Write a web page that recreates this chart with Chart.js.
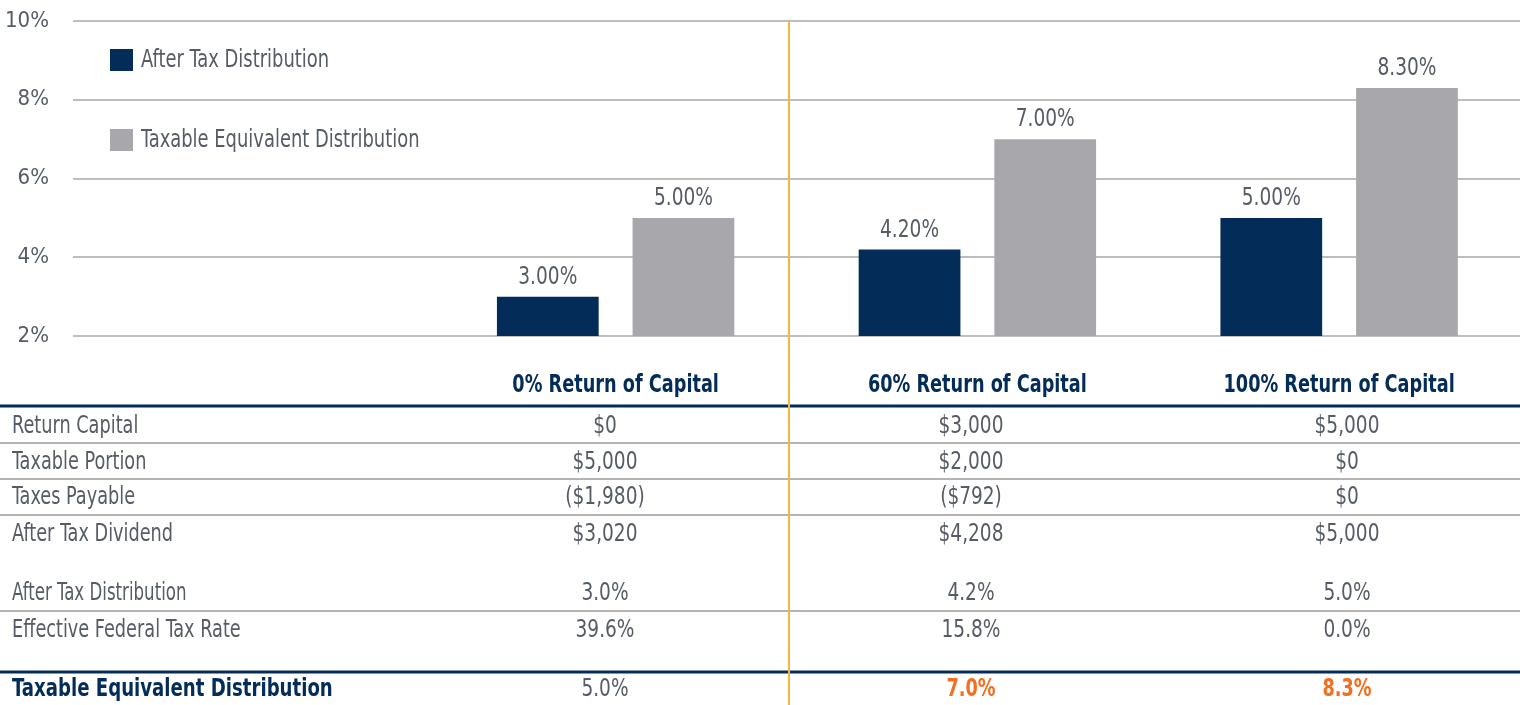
<!DOCTYPE html>
<html>
<head>
<meta charset="utf-8">
<script src="https://cdn.jsdelivr.net/npm/chart.js@4.4.0/dist/chart.umd.min.js"></script>
<style>
  html, body { margin: 0; padding: 0; background: #fff; }
  #wrap { width: 1520px; height: 705px; }
</style>
</head>
<body>
<div id="wrap"><canvas id="myChart" width="1520" height="705"></canvas></div>
<script>
// chart data
const categories = ['', '0% Return of Capital', '60% Return of Capital', '100% Return of Capital'];
const afterTaxDist = [null, 3.00, 4.20, 5.00];
const taxableEqDist = [null, 5.00, 7.00, 8.30];
const yMin = 2, yMax = 10, yStep = 2;

// table under the chart (one value per scenario)
const rowLabels = ['Return Capital', 'Taxable Portion', 'Taxes Payable', 'After Tax Dividend',
                   'After Tax Distribution', 'Effective Federal Tax Rate', 'Taxable Equivalent Distribution'];
const col0 = ['$0', '$5,000', '($1,980)', '$3,020', '3.0%', '39.6%', '5.0%'];
const col60 = ['$3,000', '$2,000', '($792)', '$4,208', '4.2%', '15.8%', '7.0%'];
const col100 = ['$5,000', '$0', '$0', '$5,000', '5.0%', '0.0%', '8.3%'];

const FONT = "'DejaVu Sans Condensed', 'Liberation Sans Narrow', sans-serif";
const NAVY = '#032c58';
const GREY_BAR = '#a8a8ac';
const TEXT = '#565c65';
const ORANGE = '#f26f21';
const SQUEEZE = 0.82;  // horizontal squeeze so the text looks like the condensed original

function narrowText(ctx, txt, x, y, sx) {
  ctx.save();
  ctx.translate(x, y);
  ctx.scale(sx, 1);
  ctx.fillText(txt, 0, 0);
  ctx.restore();
}

// bar value labels, legend, category names
const labelsPlugin = {
  id: 'labels',
  afterDatasetsDraw(chart) {
    const ctx = chart.ctx;
    ctx.save();
    ctx.font = '24px ' + FONT;
    ctx.fillStyle = TEXT;
    ctx.textAlign = 'center';
    ctx.textBaseline = 'bottom';
    chart.data.datasets.forEach((ds, i) => {
      chart.getDatasetMeta(i).data.forEach((bar, j) => {
        if (ds.data[j] == null) return;
        narrowText(ctx, ds.data[j].toFixed(2) + '%', bar.x, bar.y - 7, 0.86);
      });
    });
    // legend
    ctx.textAlign = 'left';
    ctx.textBaseline = 'middle';
    const ys = [60, 140];
    chart.data.datasets.forEach((ds, i) => {
      ctx.fillStyle = ds.backgroundColor;
      ctx.fillRect(110, ys[i] - 11, 23, 22);
      ctx.fillStyle = TEXT;
      narrowText(ctx, ds.label, 141, ys[i] + 1, 0.83);
    });
    // category names under the plot
    const xs = chart.scales.x;
    ctx.textAlign = 'center';
    ctx.fillStyle = NAVY;
    ctx.font = 'bold 24px ' + FONT;
    categories.forEach((c, i) => {
      if (c) narrowText(ctx, c, xs.getPixelForTick(i), 386, 0.82);
    });
    ctx.restore();
  }
};

// the table and the orange divider
const tablePlugin = {
  id: 'table',
  afterDraw(chart) {
    const ctx = chart.ctx;
    const W = chart.width;
    ctx.save();
    // thin row lines
    ctx.strokeStyle = '#b4b4b4';
    ctx.lineWidth = 2;
    [443, 479, 515, 611].forEach(y => {
      ctx.beginPath(); ctx.moveTo(0, y); ctx.lineTo(W, y); ctx.stroke();
    });
    // thick navy lines
    ctx.strokeStyle = NAVY;
    ctx.lineWidth = 3;
    [406, 672].forEach(y => {
      ctx.beginPath(); ctx.moveTo(0, y); ctx.lineTo(W, y); ctx.stroke();
    });

    const rowY = [427, 463, 498, 535, 594, 631, 690];
    const cols = [col0, col60, col100];
    const colX = [605, 971, 1347];
    ctx.textBaseline = 'middle';
    rowLabels.forEach((lab, r) => {
      const last = r === rowLabels.length - 1;
      ctx.textAlign = 'left';
      ctx.font = (last ? 'bold 24px ' : '24px ') + FONT;
      ctx.fillStyle = last ? NAVY : TEXT;
      narrowText(ctx, lab, 12, rowY[r], last ? 0.84 : (r === 4 ? 0.77 : SQUEEZE));
      ctx.textAlign = 'center';
      cols.forEach((c, k) => {
        const hl = last && k > 0;
        ctx.font = (hl ? 'bold 24px ' : '24px ') + FONT;
        ctx.fillStyle = hl ? ORANGE : TEXT;
        narrowText(ctx, c[r], colX[k], rowY[r], hl ? 0.82 : 0.86);
      });
    });

    // orange divider
    ctx.strokeStyle = '#f6b73c';
    ctx.lineWidth = 2;
    ctx.beginPath(); ctx.moveTo(789, chart.chartArea.top); ctx.lineTo(789, chart.height); ctx.stroke();
    ctx.restore();
  }
};

const ctx = document.getElementById('myChart').getContext('2d');
const myChart = new Chart(ctx, {
  type: 'bar',
  data: {
    labels: categories,
    datasets: [
      { label: 'After Tax Distribution', data: afterTaxDist, backgroundColor: NAVY },
      { label: 'Taxable Equivalent Distribution', data: taxableEqDist, backgroundColor: GREY_BAR }
    ]
  },
  options: {
    responsive: false,
    animation: false,
    layout: { padding: { top: 21, right: 0, left: 0, bottom: 0 } },
    datasets: { bar: { categoryPercentage: 0.75, barPercentage: 0.75 } },
    plugins: { legend: { display: false }, tooltip: { enabled: false } },
    scales: {
      x: {
        grid: { display: false },
        border: { display: false },
        afterFit(s) { s.height = 369; s.paddingLeft = 0; s.paddingRight = 0; },
        ticks: { display: false }
      },
      y: {
        min: yMin,
        max: yMax,
        afterFit(s) { s.width = 73; s.paddingTop = 0; s.paddingBottom = 0; },
        border: { display: false },
        grid: { color: '#bdbdbd', lineWidth: 2, drawTicks: false },
        ticks: {
          stepSize: yStep,
          padding: 24,
          color: TEXT,
          font: { family: FONT, size: 22 },
          callback: v => v + '%'
        }
      }
    }
  },
  plugins: [labelsPlugin, tablePlugin]
});
</script>
</body>
</html>
